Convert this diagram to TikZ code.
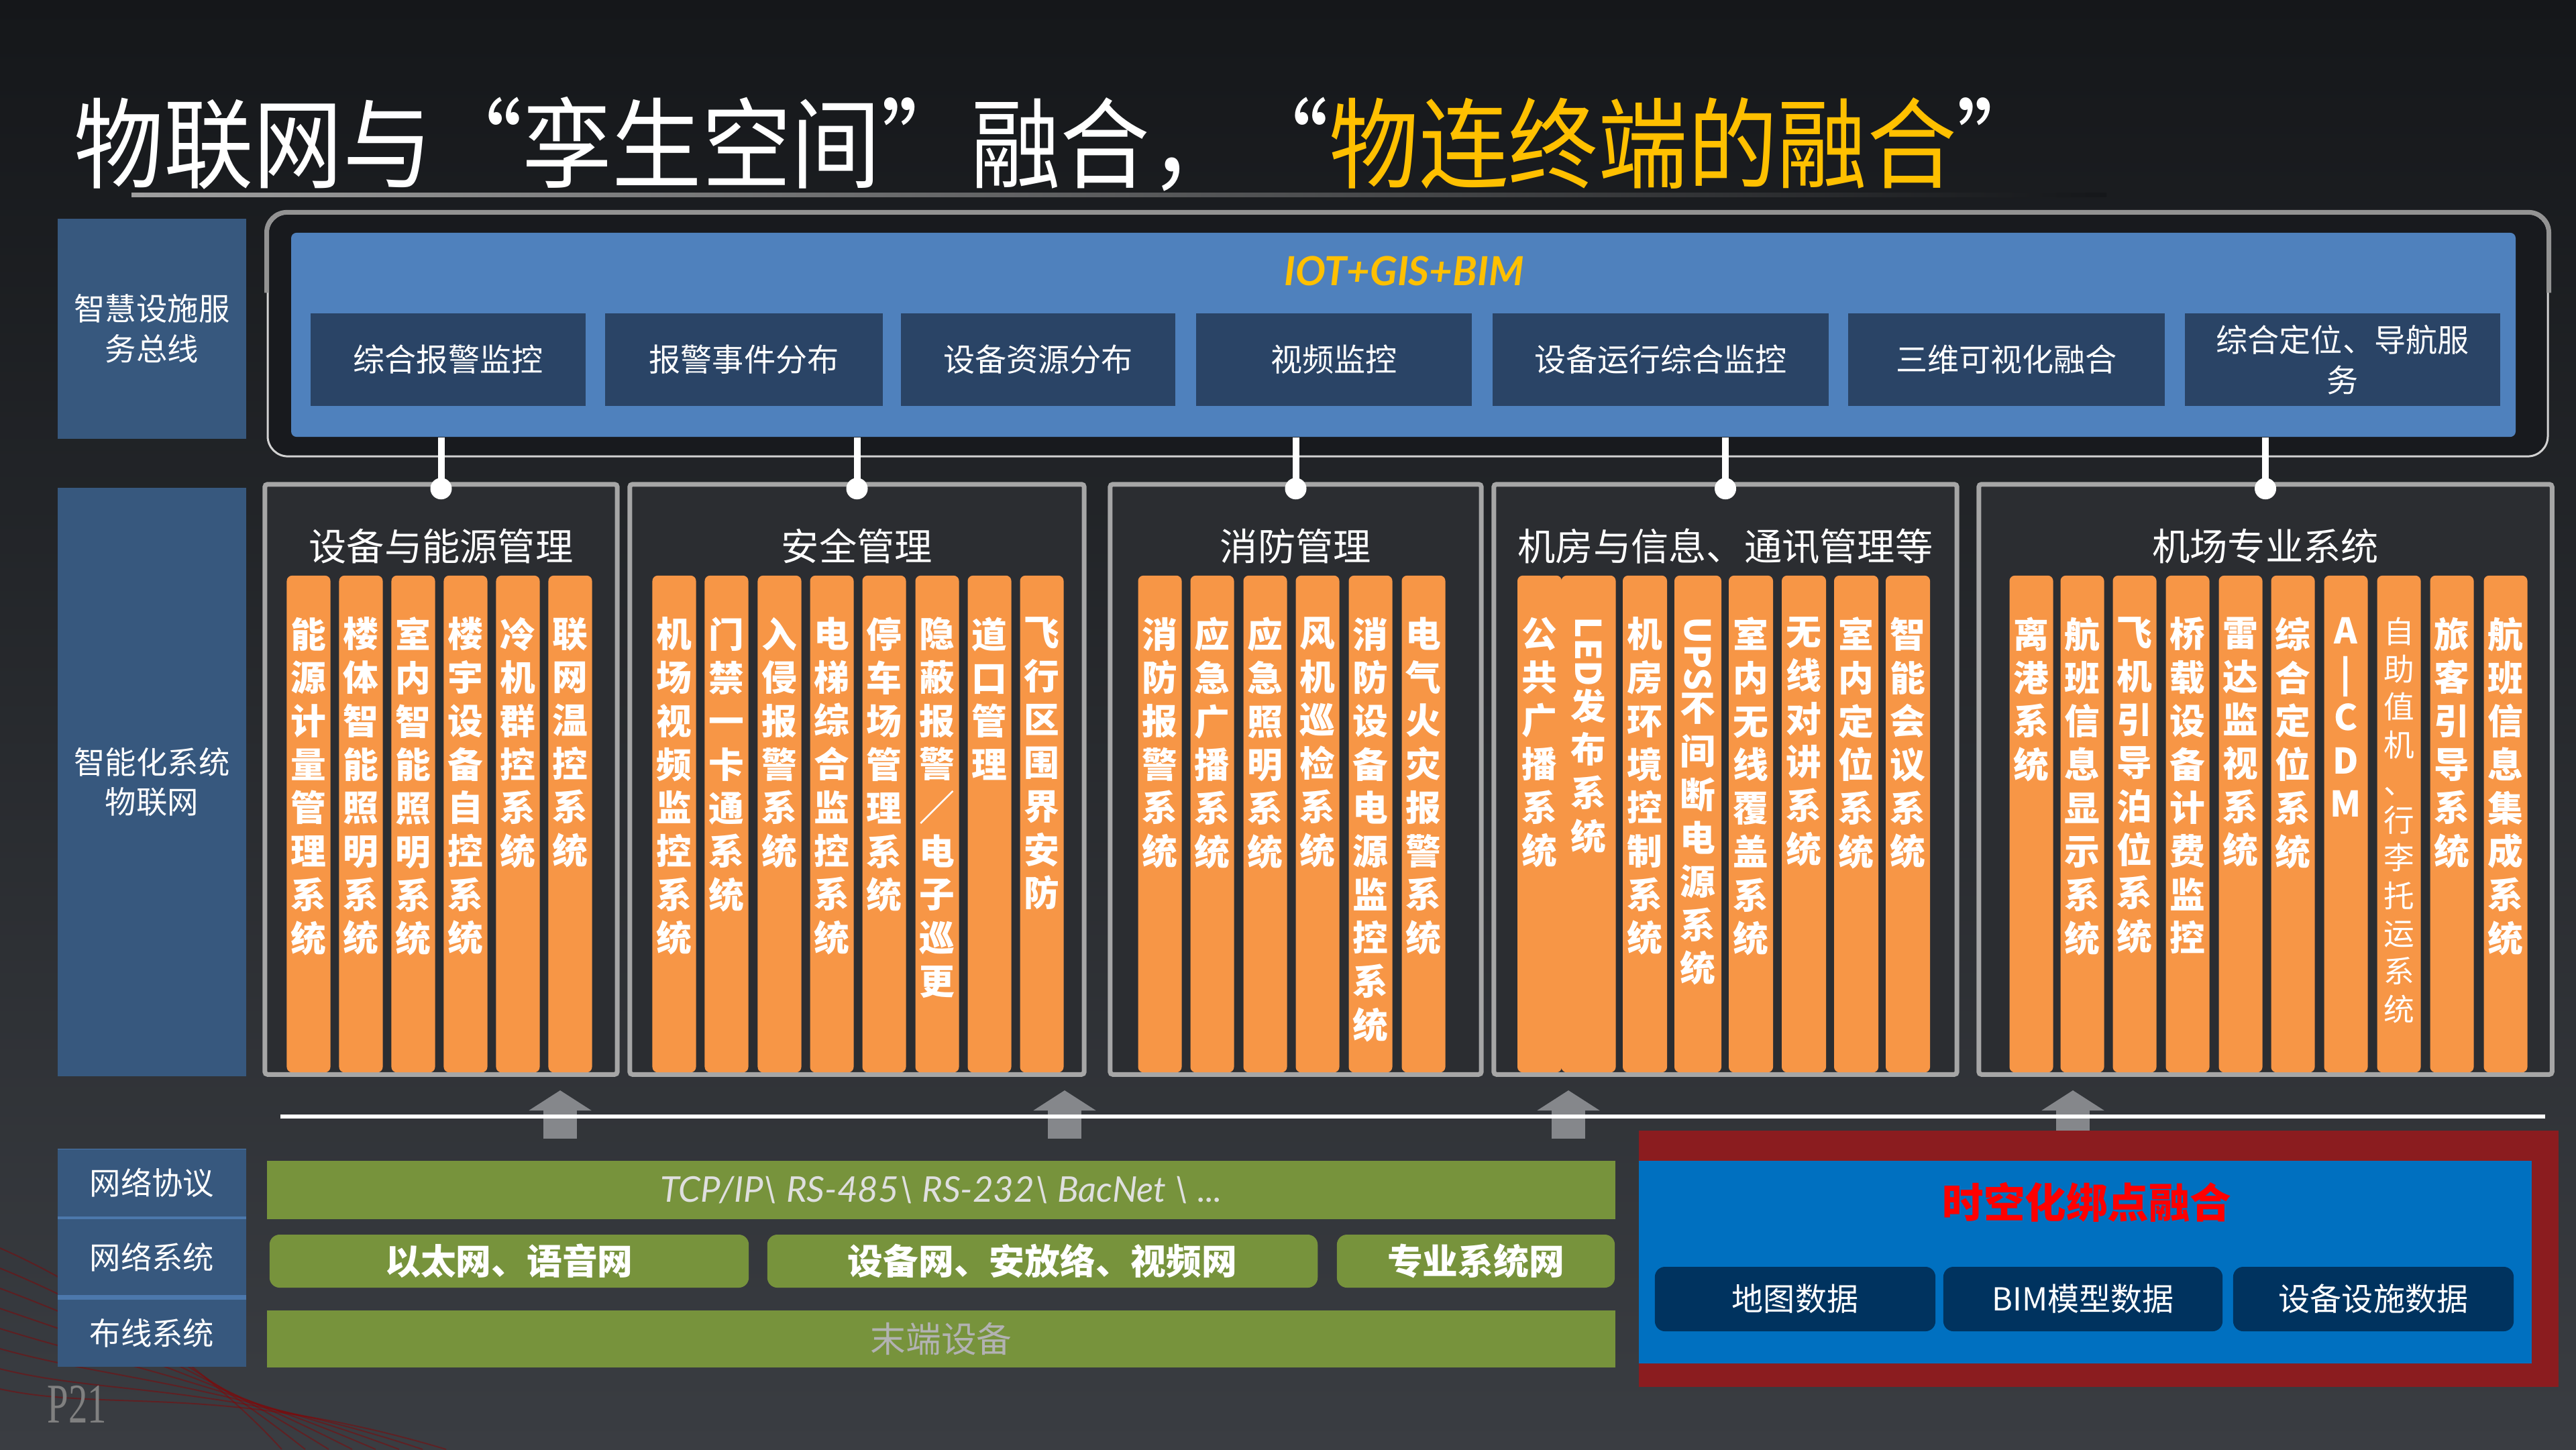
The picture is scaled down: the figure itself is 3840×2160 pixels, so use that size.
\documentclass[tikz,border=0pt]{standalone}
\usepackage{fontspec}
\setmainfont{Noto Sans CJK SC}
\newfontfamily\latinfont{Lato}
\newfontfamily\pagefont{Liberation Serif}
\usetikzlibrary{arrows.meta}

\definecolor{bgtop}{HTML}{15171A}
\definecolor{bgbot}{HTML}{3A3D42}
\definecolor{sideblue}{HTML}{37587E}
\definecolor{sidelight}{HTML}{4C78AC}
\definecolor{busblue}{HTML}{4F81BD}
\definecolor{busdark}{HTML}{2A4466}
\definecolor{framedark}{HTML}{181A1E}
\definecolor{framegray}{HTML}{A6A6A6}
\definecolor{framefill}{HTML}{2B2D31}
\definecolor{colorange}{HTML}{F79646}
\definecolor{titleyellow}{HTML}{FFC000}
\definecolor{arrowgray}{HTML}{85878B}
\definecolor{bargreen}{HTML}{77933C}
\definecolor{fuseRed}{HTML}{8B1C1F}
\definecolor{fuseBlue}{HTML}{0070C0}
\definecolor{navy}{HTML}{00335F}

% vertical text: one glyph per line
\newdimen\vtskip \vtskip=18.4pt
\newcommand\vt[1]{\vbox{\baselineskip=\vtskip\lineskip=1pt\lineskiplimit=0pt\relax\expandafter\vtx#1\relax}}
\def\vtx#1{\ifx\relax#1\else\hbox to 1.2em{\hss#1\hss}\expandafter\vtx\fi}

\begin{document}
\begin{tikzpicture}[x=0.01cm,y=-0.01cm]

      \tikzstyle{sidebox} = [rectangle, fill=sideblue, text=white, align=center, inner sep=0, font=\fontsize{13.2}{17}\selectfont]
      \tikzstyle{busbox} = [rectangle, fill=busdark, text=white, align=center, minimum height=1.38cm, font=\fontsize{13.4}{17}\selectfont]
      \tikzstyle{group} = [rectangle, draw=framegray, line width=0.07cm, fill=framefill, rounded corners=0.04cm, minimum height=8.79cm]
      \tikzstyle{grouptitle} = [text=white, font=\fontsize{16}{18}\selectfont]
      \tikzstyle{syscol} = [rectangle, fill=colorange, rounded corners=0.08cm, minimum width=0.65cm, minimum height=7.4cm, inner sep=0]
      \tikzstyle{coltext} = [anchor=north, text=white, inner sep=0, font=\bfseries\fontsize{15}{18}\selectfont]
      \tikzstyle{link} = [draw=white, line width=0.1cm]
      \tikzstyle{dot} = [circle, fill=white, minimum size=0.32cm, inner sep=0]
      \tikzstyle{uparrow} = [draw=arrowgray, line width=0.5cm, -{Triangle[width=0.92cm,length=0.3cm]}]
      \tikzstyle{greenbar} = [rectangle, fill=bargreen, inner sep=0]
      \tikzstyle{greenbox} = [greenbar, rounded corners=0.15cm, minimum height=0.79cm, text=white, font=\bfseries\fontsize{15}{18}\selectfont]
      \tikzstyle{navybox} = [rectangle, fill=navy, rounded corners=0.15cm, minimum height=0.96cm, text=white, font=\fontsize{13.4}{16}\selectfont]

      \useasboundingbox (0,0) rectangle (3840,2160);

      % background
      \shade[top color=bgtop, bottom color=bgbot] (0,0) rectangle (3840,2160);
      \foreach \k in {0,...,7} {
        \draw[red!55!black, opacity=0.45, line width=0.02cm] (0,1860+\k*30) .. controls (160,1930+\k*25) and (330,2060) .. (420+\k*35,2160);
      }

      % title
      \node[anchor=west, inner sep=0, text=white, font=\fontsize{38}{40}\selectfont] (title) at (110,215)
        {\scalebox{1}[1.1]{物联网与“孪生空间”融合，“\textcolor{titleyellow}{物连终端的融合}”}};
      \shade[left color=gray!75, right color=bgtop] (196,287) rectangle (3140,293);

      % left labels
      \node[sidebox, minimum width=2.81cm, minimum height=3.28cm] (busLabel) at (226.5,490) {智慧设施服\\务总线};
      \node[sidebox, minimum width=2.81cm, minimum height=8.77cm] (iotLabel) at (226.5,1165.5) {智能化系统\\物联网};
      \fill[sidelight] (86,1712) rectangle (367,2037);
      \node[sidebox, minimum width=2.81cm, minimum height=1.0cm] (protoLabel) at (226.5,1762.5) {网络协议};
      \node[sidebox, minimum width=2.81cm, minimum height=1.13cm] (netLabel) at (226.5,1873.5) {网络系统};
      \node[sidebox, minimum width=2.81cm, minimum height=1.0cm] (wireLabel) at (226.5,1986.5) {布线系统};

      % service bus
      \node[rectangle, draw=gray!35, line width=0.03cm, fill=framedark, rounded corners=0.3cm, minimum width=33.97cm, minimum height=3.62cm] (busFrame) at (2098.5,499) {};
      \draw[gray!85, line width=0.07cm, rounded corners=0.3cm] ([yshift=-1.2cm]busFrame.north west) -- (busFrame.north west) -- (busFrame.north east) -- ([yshift=-1.2cm]busFrame.north east);
      \node[rectangle, fill=busblue, rounded corners=0.08cm, minimum width=33.14cm, minimum height=3.04cm] (bus) at (2092,499) {};
      \node[text=titleyellow, font=\latinfont\itshape\bfseries\fontsize{17}{20}\selectfont] (busTitle) at (2093,404) {IOT+GIS+BIM};
      \node[busbox, minimum width=4.10cm] (svc1) at (668,536) {综合报警监控};
      \node[busbox, minimum width=4.14cm] (svc2) at (1109,536) {报警事件分布};
      \node[busbox, minimum width=4.09cm] (svc3) at (1547.5,536) {设备资源分布};
      \node[busbox, minimum width=4.11cm] (svc4) at (1988.5,536) {视频监控};
      \node[busbox, minimum width=5.01cm] (svc5) at (2475.5,536) {设备运行综合监控};
      \node[busbox, minimum width=4.72cm] (svc6) at (2991,536) {三维可视化融合};
      \node[busbox, minimum width=4.70cm] (svc7) at (3492,536) {综合定位、导航服\\务};

      % groups
      \node[group, minimum width=5.25cm] (f1) at (657.5,1161.5) {};
      \node[group, minimum width=6.77cm] (f2) at (1277.5,1161.5) {};
      \node[group, minimum width=5.53cm] (f3) at (1931.5,1161.5) {};
      \node[group, minimum width=6.90cm] (f4) at (2572,1161.5) {};
      \node[group, minimum width=8.54cm] (f5) at (3377,1161.5) {};
      \node[grouptitle] (f1title) at (657.5,814) {设备与能源管理};
      \node[grouptitle] (f2title) at (1277.5,814) {安全管理};
      \node[grouptitle] (f3title) at (1931.5,814) {消防管理};
      \node[grouptitle] (f4title) at (2572,814) {机房与信息、通讯管理等};
      \node[grouptitle] (f5title) at (3377,814) {机场专业系统};

      % bus to groups
      \foreach \g in {1,...,5} {
        \node[dot] (d\g) at ([yshift=-0.1cm]f\g.north) {};
        \draw[link] (bus.south -| d\g) -- (d\g.center);
      }

      % equipment and energy
      \foreach \cx/\ct [count=\i] in {460/能源计量管理系统,538/楼体智能照明系统,616/室内智能照明系统,694/楼宇设备自控系统,772/冷机群控系统,850/联网温控系统} {
        \node[syscol] (f1c\i) at (\cx,1228) {};
        \node[coltext] (f1t\i) at ([yshift=-0.62cm]f1c\i.north) {\vt{\ct}};
      }

      % security
      \foreach \cx/\ct [count=\i] in {1005/机场视频监控系统,1083/门禁一卡通系统,1162/入侵报警系统,1240/电梯综合监控系统,1318/停车场管理系统,1397/隐蔽报警／电子巡更,1475/道口管理,1553/飞行区围界安防} {
        \node[syscol] (f2c\i) at (\cx,1228) {};
        \node[coltext] (f2t\i) at ([yshift=-0.62cm]f2c\i.north) {\vt{\ct}};
      }

      % fire
      \foreach \cx/\ct [count=\i] in {1729/消防报警系统,1807/应急广播系统,1886/应急照明系统,1964/风机巡检系统,2043/消防设备电源监控系统,2122/电气火灾报警系统} {
        \node[syscol] (f3c\i) at (\cx,1228) {};
        \node[coltext] (f3t\i) at ([yshift=-0.62cm]f3c\i.north) {\vt{\ct}};
      }

      % machine room
      \foreach \cx/\cw/\ct [count=\i] in {2295/0.66/公共广播系统,2368/0.81/{\rotatebox{-90}{LED}}发布系统,2452/0.66/机房环境控制系统,2531/0.70/{\rotatebox{-90}{UPS}}不间断电源系统,2610/0.66/室内无线覆盖系统,2689/0.66/无线对讲系统,2767/0.66/室内定位系统,2844/0.66/智能会议系统} {
        \node[syscol, minimum width=\cw cm] (f4c\i) at (\cx,1228) {};
        \node[coltext] (f4t\i) at ([yshift=-0.62cm]f4c\i.north) {\vt{\ct}};
      }

      % airport
      \foreach \cx/\ct [count=\i] in {3028/离港系统,3104/航班信息显示系统,3182/飞机引导泊位系统,3261/桥载设备计费监控,3340/雷达监视系统,3418/综合定位系统,3497/A|CDM,3655/旅客引导系统,3735/航班信息集成系统} {
        \node[syscol] (f5c\i) at (\cx,1228) {};
        \node[coltext] (f5t\i) at ([yshift=-0.62cm]f5c\i.north) {\vt{\ct}};
      }
      \node[syscol] (f5cx) at (3576,1228) {};
      \node[coltext, font=\fontsize{13}{15}\selectfont] (f5tx) at ([yshift=-0.62cm]f5cx.north) {\vtskip=16pt\relax\vt{自助值机、行李托运系统}};

      % up arrows
      \foreach \ax [count=\i] in {835,1587,2338,3090} {
        \coordinate (upFrom\i) at (\ax,1697);
        \coordinate (upTo\i) at (\ax,1625);
        \draw[uparrow] (upFrom\i) -- (upTo\i);
      }
      \draw[white, line width=0.06cm] (418,1664) -- (3794,1664);

      % network layers
      \node[greenbar, minimum width=20.08cm, minimum height=0.87cm, text=gray!25, font=\latinfont\itshape\fontsize{15}{18}\selectfont] (proto) at (1403,1773.5)
        {TCP/IP\textbackslash{} RS-485\textbackslash{} RS-232\textbackslash{} BacNet \textbackslash{} ...};
      \node[greenbox, minimum width=7.14cm] (net1) at (759,1879.5) {以太网、语音网};
      \node[greenbox, minimum width=8.20cm] (net2) at (1554,1879.5) {设备网、安放络、视频网};
      \node[greenbox, minimum width=4.14cm] (net3) at (2200,1879.5) {专业系统网};
      \node[greenbar, minimum width=20.08cm, minimum height=0.85cm, text=gray!60, font=\fontsize{15}{18}\selectfont] (endDev) at (1403,1995.5) {末端设备};

      % fusion
      \node[rectangle, fill=fuseRed, minimum width=13.71cm, minimum height=3.82cm] (fuseOuter) at (3128.5,1876) {};
      \node[rectangle, fill=fuseBlue, minimum width=13.31cm, minimum height=3.02cm] (fuse) at (3108.5,1881) {};
      \node[text=red, font=\bfseries\fontsize{17.5}{20}\selectfont] (fuseTitle) at (3111,1792) {时空化绑点融合};
      \node[navybox, minimum width=4.18cm] (data1) at (2676,1936) {地图数据};
      \node[navybox, minimum width=4.16cm] (data2) at (3105,1936) {BIM模型数据};
      \node[navybox, minimum width=4.18cm] (data3) at (3538,1936) {设备设施数据};

      % page
      \node[text=gray, font=\pagefont\fontsize{19}{20}\selectfont] (page) at (115,2093) {\scalebox{0.85}[1.25]{P21}};
    \end{tikzpicture}
\end{document}
